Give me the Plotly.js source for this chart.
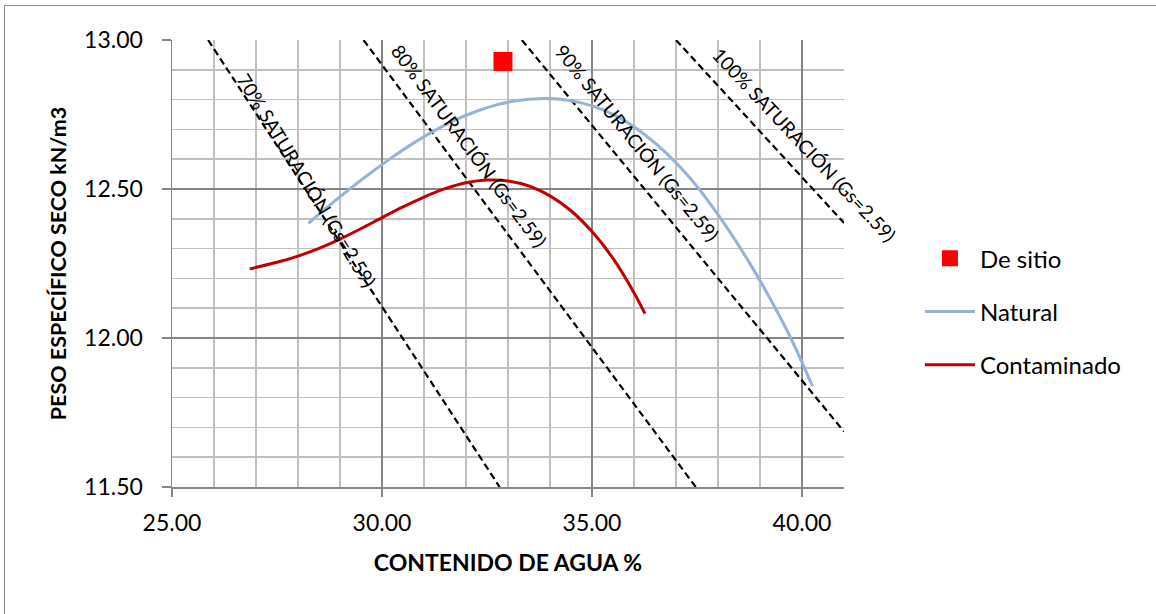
<!DOCTYPE html>
<html>
<head>
<meta charset="utf-8">
<script src="https://cdn.plot.ly/plotly-3.0.1.min.js"></script>
<style>
  html, body { margin: 0; padding: 0; background: #ffffff; }
  #frame { position: absolute; left: 4px; top: 5px; width: 1170px; height: 630px;
           border: 1px solid #8c8c8c; box-sizing: border-box; }
  #chart { position: absolute; left: 0; top: 0; width: 1156px; height: 614px; }
</style>
</head>
<body>
<div id="frame"></div>
<div id="chart"></div>
<script>
// Compaction results: water content (%) vs dry unit weight (kN/m3)
const naturalW = [28.25, 28.75, 29.25, 29.75, 30.25, 30.75, 31.25, 31.75, 32.25, 32.75, 33.25, 33.75,
                  34.25, 34.75, 35.25, 35.75, 36.25, 36.75, 37.25, 37.75, 38.25, 38.75, 39.25, 39.75, 40.25];
const naturalG = [12.385, 12.445, 12.502, 12.556, 12.607, 12.654, 12.696, 12.732, 12.761, 12.783, 12.797, 12.803,
                  12.801, 12.789, 12.766, 12.731, 12.683, 12.623, 12.550, 12.463, 12.363, 12.252, 12.130, 11.995, 11.838];

const contamW = [26.85, 27.50, 28.00, 28.50, 29.00, 29.50, 30.00, 30.50, 31.00, 31.50,
                 32.00, 32.50, 33.00, 33.50, 34.00, 34.50, 35.00, 35.50, 36.00, 36.26];
const contamG = [12.232, 12.254, 12.275, 12.301, 12.332, 12.367, 12.404, 12.440, 12.473, 12.501,
                 12.521, 12.530, 12.527, 12.510, 12.477, 12.427, 12.357, 12.267, 12.152, 12.082];

// Field (in-situ) sample
const sitioW = [32.88];
const sitioG = [12.928];

// Saturation lines (Gs = 2.59)
const sat70W  = [25.86, 32.80];  const sat70G  = [13.00, 11.50];
const sat80W  = [29.56, 37.47];  const sat80G  = [13.00, 11.50];
const sat90W  = [33.33, 41.00];  const sat90G  = [13.00, 11.686];
const sat100W = [37.00, 41.00];  const sat100G = [13.00, 12.386];

const satLabels = ['70% SATURACIÓN (Gs=2.59)', '80% SATURACIÓN (Gs=2.59)',
                   '90% SATURACIÓN (Gs=2.59)', '100% SATURACIÓN (Gs=2.59)'];

const FONT = 'Lato, "Open Sans", sans-serif';

const dashed = { color: '#000000', width: 2.2, dash: '7px,4px' };
function satTrace(x, y) {
  return { x: x, y: y, type: 'scatter', mode: 'lines', line: dashed,
           showlegend: false, hoverinfo: 'skip' };
}

const traces = [
  satTrace(sat70W, sat70G),
  satTrace(sat80W, sat80G),
  satTrace(sat90W, sat90G),
  satTrace(sat100W, sat100G),
  { x: naturalW, y: naturalG, type: 'scatter', mode: 'lines', name: 'Natural',
    legendgroup: 'b', legendrank: 2,
    line: { color: '#95B3D7', width: 3, shape: 'spline', smoothing: 1 } },
  { x: contamW, y: contamG, type: 'scatter', mode: 'lines', name: 'Contaminado',
    legendgroup: 'c', legendrank: 3,
    line: { color: '#C00000', width: 3, shape: 'spline', smoothing: 1 } },
  { x: sitioW, y: sitioG, type: 'scatter', mode: 'markers', name: 'De sitio',
    legendgroup: 'a', legendrank: 1,
    marker: { symbol: 'square', size: 19, color: '#FF0000' } }
];

// Label placement along each saturation line
const labelPos = [
  { x: 28.22, y: 12.53, angle: 58.5 },
  { x: 32.07, y: 12.645, angle: 53.5 },
  { x: 36.07, y: 12.655, angle: 50.8 },
  { x: 40.06, y: 12.65, angle: 46.8 }
];
const annotations = satLabels.map((t, i) => ({
  x: labelPos[i].x, y: labelPos[i].y, xref: 'x', yref: 'y',
  text: t, showarrow: false, textangle: labelPos[i].angle,
  xanchor: 'center', yanchor: 'middle',
  font: { family: FONT, size: 19, color: '#000000' }
}));

const layout = {
  width: 1156, height: 614,
  margin: { l: 172, r: 312, t: 40, b: 127, pad: 0 },
  paper_bgcolor: 'rgba(0,0,0,0)',
  plot_bgcolor: '#ffffff',
  font: { family: FONT, color: '#000000' },
  showlegend: true,
  legend: {
    x: 1.113, y: 0.561, xanchor: 'left', yanchor: 'top',
    font: { family: FONT, size: 24, color: '#000000' },
    tracegroupgap: 19, itemwidth: 50, bgcolor: 'rgba(0,0,0,0)'
  },
  xaxis: {
    range: [25, 41], tick0: 25, dtick: 5, tickformat: '.2f',
    showline: true, linecolor: '#868686', linewidth: 1.5,
    showgrid: true, gridcolor: '#868686', gridwidth: 1.5,
    ticks: 'outside', ticklen: 8, tickcolor: '#868686', tickwidth: 1.5,
    ticklabelstandoff: 7,
    minor: { dtick: 1, showgrid: true, gridcolor: '#c0c0c0', gridwidth: 1.5, ticks: '' },
    zeroline: false,
    tickfont: { family: FONT, size: 23, color: '#000000' },
    title: { text: '<b>CONTENIDO DE AGUA %</b>', standoff: 20,
             font: { family: FONT, size: 23, color: '#000000' } }
  },
  yaxis: {
    range: [11.5, 13], tick0: 11.5, dtick: 0.5, tickformat: '.2f',
    showline: true, linecolor: '#868686', linewidth: 1.5,
    showgrid: true, gridcolor: '#868686', gridwidth: 1.5,
    ticks: 'outside', ticklen: 9, tickcolor: '#868686', tickwidth: 1.5,
    ticklabelstandoff: 14,
    minor: { dtick: 0.1, showgrid: true, gridcolor: '#c0c0c0', gridwidth: 1.5, ticks: '' },
    zeroline: false,
    tickfont: { family: FONT, size: 23, color: '#000000' },
    title: { text: '<b>PESO ESPECÍFICO SECO kN/m3</b>', standoff: 11,
             font: { family: FONT, size: 21.5, color: '#000000' } }
  },
  annotations: annotations
};

Plotly.newPlot('chart', traces, layout, { displayModeBar: false, staticPlot: true });
</script>
</body>
</html>
